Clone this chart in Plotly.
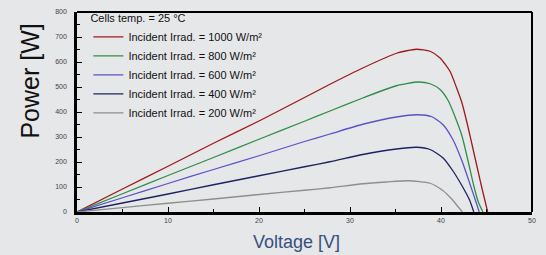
import plotly.graph_objects as go

# Voltage [V] / Power [W] readings per irradiance level
v_1000 = [0, 5, 10, 15, 20, 25, 27.8, 31.4, 35.1, 37.3, 38.8, 39.9, 41, 41.7, 42.3, 43, 43.5, 44, 44.5, 45.13]
p_1000 = [0, 92, 183, 275, 364, 458, 511, 576, 635, 651, 643, 616, 562, 498, 437, 335, 255, 175, 95, 0]

v_800 = [0, 5, 10, 15, 20, 25, 27.8, 31.4, 35.1, 37.5, 38.8, 39.9, 40.8, 41.5, 42.3, 43, 43.6, 44.1, 44.6]
p_800 = [0, 73, 146, 218, 291, 363, 404, 456, 505, 520, 513, 490, 445, 385, 305, 200, 105, 40, 0]

v_600 = [0, 5, 10, 15, 20, 25, 27.8, 31.4, 35.1, 37.4, 39, 40.2, 41.3, 42.3, 43.2, 43.8, 44.2]
p_600 = [0, 57, 114, 170, 225, 282, 312, 351, 380, 389, 381, 350, 290, 205, 110, 45, 0]

v_400 = [0, 5, 10, 15, 20, 25, 27.8, 31.4, 35.1, 37.3, 38.8, 40.2, 41.3, 42.4, 43.15, 43.6]
p_400 = [0, 36, 72, 109, 145, 181, 201, 230, 252, 259, 250, 217, 165, 99, 47, 0]

v_200 = [0, 5, 10, 15, 20, 25, 27.8, 31.4, 34, 36.4, 38.8, 40.2, 41.3, 41.9, 42.35]
p_200 = [0, 17.5, 35, 52, 70, 87, 97, 113, 120, 125, 115, 86, 47, 20, 0]

names = ["Incident Irrad. = 1000 W/m²", "Incident Irrad. = 800 W/m²",
         "Incident Irrad. = 600 W/m²", "Incident Irrad. = 400 W/m²",
         "Incident Irrad. = 200 W/m²"]
colors = ["#9b1b1b", "#2e8f4a", "#5b52c8", "#1e2260", "#8e8e8e"]
series = [(v_1000, p_1000), (v_800, p_800), (v_600, p_600), (v_400, p_400), (v_200, p_200)]

x_ticks = [0, 10, 20, 30, 40, 50]
y_ticks = [0, 100, 200, 300, 400, 500, 600, 700, 800]

bg = "#e6e7e9"
fig = go.Figure()
for (v, p), n, c in zip(series, names, colors):
    fig.add_trace(go.Scatter(x=v, y=p, name=n, mode="lines",
                             line=dict(color=c, width=1.3, shape="spline", smoothing=0.6)))

font_family = "Liberation Sans, Arial, sans-serif"
tickfont = dict(family=font_family, size=7, color="#444")
fig.update_layout(
    width=546, height=255,
    margin=dict(l=77, r=14, t=8, b=43),
    paper_bgcolor=bg, plot_bgcolor=bg,
    showlegend=True,
    legend=dict(x=0.025, y=1.02, xanchor="left", yanchor="top", bgcolor="rgba(0,0,0,0)",
                font=dict(family=font_family, size=11, color="#111"),
                title=dict(text="Cells temp. = 25 °C",
                           font=dict(family=font_family, size=11, color="#111")),
                itemwidth=30, tracegroupgap=0),
    xaxis=dict(range=[0, 50], tickvals=x_ticks, ticktext=[str(t) for t in x_ticks],
               showgrid=False, zeroline=False, showline=True, linecolor="black", linewidth=2.5,
               mirror=False, ticks="inside", ticklen=5, tickwidth=1, tickcolor="black",
               minor=dict(dtick=5, ticks="inside", ticklen=3, tickcolor="black", tickwidth=1),
               tickfont=tickfont, fixedrange=True),
    yaxis=dict(range=[0, 800], tickvals=y_ticks, ticktext=[str(t) for t in y_ticks],
               showgrid=False, zeroline=False, showline=True, linecolor="black", linewidth=2.5,
               mirror=False, ticks="inside", ticklen=5, tickwidth=1, tickcolor="black",
               minor=dict(dtick=50, ticks="inside", ticklen=3, tickcolor="black", tickwidth=1),
               tickfont=tickfont, ticklabelstandoff=6, fixedrange=True),
    shapes=[
        dict(type="line", xref="paper", yref="paper", x0=0, x1=1, y0=1, y1=1,
             line=dict(color="black", width=2)),
        dict(type="line", xref="paper", yref="paper", x0=1, x1=1, y0=0, y1=1,
             line=dict(color="black", width=2)),
    ],
    annotations=[
        dict(text="Power [W]", xref="paper", yref="paper", x=-77/455, y=(212-79)/204,
             xanchor="left", yanchor="middle", xshift=14, textangle=-90, showarrow=False,
             font=dict(family=font_family, size=25, color="#111")),
        dict(text="Voltage [V]", xref="paper", yref="paper", x=(296-77)/455, y=-(242.7-212)/204,
             xanchor="center", yanchor="middle", showarrow=False,
             font=dict(family=font_family, size=18, color="#34507f")),
    ],
)
fig.write_html(
    "out.html",
    config={"displayModeBar": False},
    post_script="document.body.style.margin='0';document.body.style.background='%s';"
                "document.documentElement.style.overflow='hidden';" % bg,
)
